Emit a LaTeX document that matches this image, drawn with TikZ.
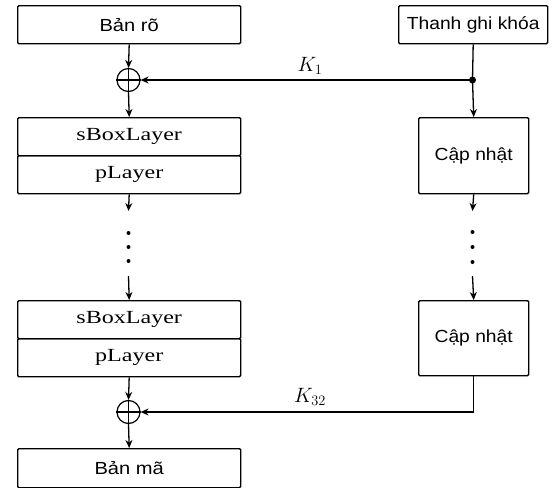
\documentclass[tikz,border=0pt]{standalone}
\usepackage{fontspec}
\usepackage{graphicx}
\setmainfont{Liberation Serif}
\newfontfamily\sansf{Liberation Sans}
\usetikzlibrary{arrows.meta}
\newcommand{\sx}[2]{\scalebox{#1}[1]{#2}}
\begin{document}
\begin{tikzpicture}[x=1pt,y=-1pt,
  box/.style={draw, line width=1.4pt, rounded corners=1.2pt, inner sep=0pt, anchor=north west},
  sanst/.style={font=\sansf\fontsize{17.5}{20}\selectfont},
  serift/.style={font=\fontsize{18.5}{21}\selectfont},
  xor/.style={circle, draw, line width=1.2pt, minimum size=23pt, inner sep=0pt},
  arr/.style={line width=1.3pt, -{Stealth[length=8pt,width=7pt]}},
  ln/.style={line width=1.3pt},
  lbl/.style={font=\fontsize{20}{24}\selectfont}
]
\useasboundingbox (0,0) rectangle (558,488);
% left column
\node[box, sanst, minimum width=223pt, minimum height=38pt] (plain) at (17,5) {\sx{1.15}{Bản rõ}};
\node[xor] (x1) at (128.5,80) {};
\draw[line width=1.2pt] (x1.north) -- (x1.south) (x1.west) -- (x1.east);
\node[box, serift, minimum width=223pt, minimum height=38pt] (sb1) at (17,117) {\sx{1.3}{sBoxLayer}};
\node[box, serift, minimum width=223pt, minimum height=38pt] (pl1) at (17,155) {\sx{1.3}{pLayer}};
\node[box, serift, minimum width=223pt, minimum height=38pt] (sb2) at (17,300) {\sx{1.3}{sBoxLayer}};
\node[box, serift, minimum width=223pt, minimum height=38pt] (pl2) at (17,338) {\sx{1.3}{pLayer}};
\node[xor] (x2) at (128.5,412) {};
\draw[line width=1.2pt] (x2.north) -- (x2.south) (x2.west) -- (x2.east);
\node[box, sanst, minimum width=223pt, minimum height=39pt] (cipher) at (17,448) {\sx{1.15}{Bản mã}};
% right column
\node[box, sanst, minimum width=149pt, minimum height=38pt] (key) at (398,5) {\sx{1.1}{Thanh ghi khóa}};
\coordinate (j1) at (472.5,80);
\node[box, sanst, minimum width=110pt, minimum height=76pt] (up1) at (418,117) {\sx{1.1}{Cập nhật}};
\node[box, sanst, minimum width=110pt, minimum height=75pt] (up2) at (418,300) {\sx{1.1}{Cập nhật}};
% left connectors
\draw[arr] (plain.south) -- (x1.north);
\draw[arr] (x1.south) -- (sb1.north);
\coordinate (la) at (128.5,211);
\coordinate (lb) at (128.5,276);
\draw[arr] (pl1.south) -- (la);
\foreach \yy in {233,247,261} \fill (128.5,\yy) circle (2pt);
\draw[arr] (lb) -- (sb2.north);
\draw[arr] (pl2.south) -- (x2.north);
\draw[arr] (x2.south) -- (cipher.north);
% right connectors
\draw[ln] (key.south) -- (j1);
\fill (j1) circle (3.5pt);
\draw[arr] (j1) -- (x1.east);
\draw[arr] (j1) -- (up1.north);
\node[lbl] (k1) at (310,66) {$K_1$};
\coordinate (ra) at (472.5,211);
\coordinate (rb) at (472.5,276);
\draw[arr] (up1.south) -- (ra);
\foreach \yy in {232,247,262} \fill (472.5,\yy) circle (2pt);
\draw[arr] (rb) -- (up2.north);
\draw[arr] (up2.south) |- (x2.east);
\node[lbl] (k32) at (310,397) {$K_{32}$};
\end{tikzpicture}
\end{document}
